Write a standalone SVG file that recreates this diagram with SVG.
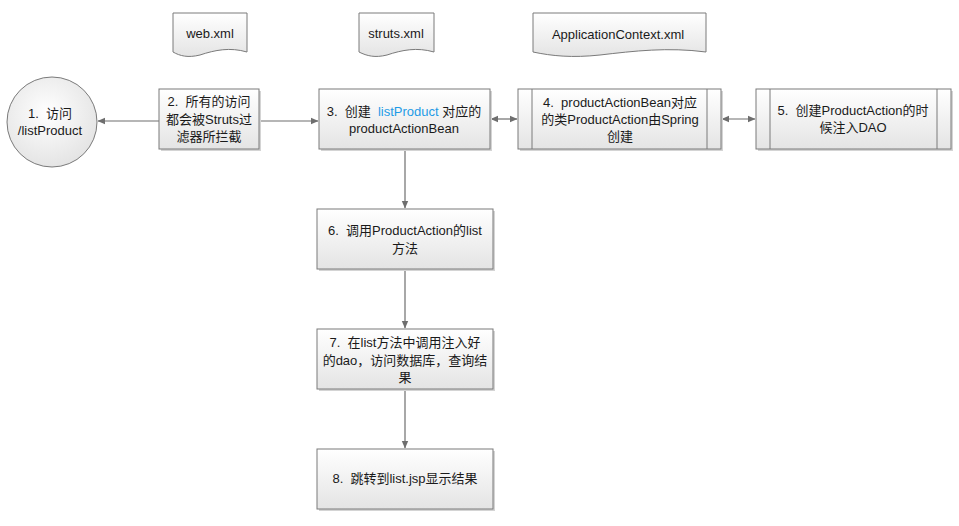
<svg xmlns="http://www.w3.org/2000/svg" width="959" height="526" viewBox="0 0 959 526">
<style>
text{font-family:"Liberation Sans","Noto Sans CJK SC",sans-serif;font-size:13px;fill:#1a1a1a;white-space:pre}
.box{fill:url(#g);stroke:#7a7a7a;stroke-width:1}
.sh{fill:#d4d4d4}
.doc{fill:url(#g);stroke:#7a7a7a;stroke-width:1}
.in{stroke:#7a7a7a;stroke-width:1}
.c{stroke:#6e6e6e;stroke-width:1.2;fill:none}
.hl{fill:#1e9be6}
</style>
<defs>
<linearGradient id="g" x1="0" y1="0" x2="0" y2="1">
<stop offset="0" stop-color="#ffffff"/>
<stop offset="1" stop-color="#e4e4e4"/>
</linearGradient>
<radialGradient id="rg" cx="0.45" cy="0.4" r="0.65">
<stop offset="0" stop-color="#ffffff"/>
<stop offset="1" stop-color="#e2e2e2"/>
</radialGradient>
<marker id="a" markerWidth="8" markerHeight="8" refX="7" refY="4" orient="auto-start-reverse" markerUnits="userSpaceOnUse">
<path d="M0,0.8 L7.5,4 L0,7.2 Z" fill="#6e6e6e"/>
</marker>
</defs>
<rect width="959" height="526" fill="#ffffff"/>

<g id="connectors">
<line class="c" x1="159" y1="121" x2="98" y2="121" marker-end="url(#a)"/>
<line class="c" x1="259" y1="121" x2="318" y2="121" marker-end="url(#a)"/>
<line class="c" x1="491" y1="119" x2="517" y2="119" marker-start="url(#a)" marker-end="url(#a)"/>
<line class="c" x1="722" y1="119" x2="755" y2="119" marker-start="url(#a)" marker-end="url(#a)"/>
<line class="c" x1="405" y1="149" x2="405" y2="208" marker-end="url(#a)"/>
<line class="c" x1="405" y1="269" x2="405" y2="328" marker-end="url(#a)"/>
<line class="c" x1="405" y1="389" x2="405" y2="448" marker-end="url(#a)"/>
</g>

<g id="doc-web">
<path class="doc" d="M173,13 H247 V52 C230,47 215,50 200,55 C188,58 180,56 173,52 Z"/>
<text x="210" y="38" text-anchor="middle">web.xml</text>
</g>
<g id="doc-struts">
<path class="doc" d="M359,13 H434 V52 C417,47 402,50 387,55 C375,58 367,56 359,52 Z"/>
<text x="396" y="38" text-anchor="middle">struts.xml</text>
</g>
<g id="doc-appctx">
<path class="doc" d="M533,13 H706 V52 C668,47 634,51 600,55 C572,58 552,56 533,52 Z"/>
<text x="618" y="39" text-anchor="middle">ApplicationContext.xml</text>
</g>

<g id="n1">
<circle cx="52" cy="122" r="45" fill="url(#rg)" stroke="#7a7a7a"/>
<text x="50" y="118" text-anchor="middle">1.  访问</text>
<text x="50" y="135" text-anchor="middle">/listProduct</text>
</g>

<g id="n2">
<rect class="sh" x="161" y="91" width="100" height="60"/>
<rect class="box" x="159" y="89" width="100" height="60"/>
<text x="209" y="106" text-anchor="middle">2.  所有的访问</text>
<text x="209" y="124" text-anchor="middle">都会被Struts过</text>
<text x="209" y="141" text-anchor="middle">滤器所拦截</text>
</g>

<g id="n3">
<rect class="sh" x="321" y="91" width="171" height="60"/>
<rect class="box" x="319" y="89" width="171" height="60"/>
<text x="404" y="116" text-anchor="middle">3.  创建  <tspan class="hl">listProduct</tspan> 对应的</text>
<text x="404" y="133" text-anchor="middle">productActionBean</text>
</g>

<g id="n4">
<rect class="sh" x="520" y="91" width="203" height="60"/>
<rect class="box" x="518" y="89" width="203" height="60"/>
<line class="in" x1="532" y1="89" x2="532" y2="149"/>
<line class="in" x1="707" y1="89" x2="707" y2="149"/>
<text x="620" y="107" text-anchor="middle">4.  productActionBean对应</text>
<text x="620" y="124" text-anchor="middle">的类ProductAction由Spring</text>
<text x="620" y="141" text-anchor="middle">创建</text>
</g>

<g id="n5">
<rect class="sh" x="758" y="91" width="195" height="60"/>
<rect class="box" x="756" y="89" width="195" height="60"/>
<line class="in" x1="770" y1="89" x2="770" y2="149"/>
<line class="in" x1="937" y1="89" x2="937" y2="149"/>
<text x="853" y="115" text-anchor="middle">5.  创建ProductAction的时</text>
<text x="853" y="132" text-anchor="middle">候注入DAO</text>
</g>

<g id="n6">
<rect class="sh" x="319" y="211" width="176" height="60"/>
<rect class="box" x="317" y="209" width="176" height="60"/>
<text x="405" y="235" text-anchor="middle">6.  调用ProductAction的list</text>
<text x="405" y="253" text-anchor="middle">方法</text>
</g>

<g id="n7">
<rect class="sh" x="319" y="331" width="176" height="60"/>
<rect class="box" x="317" y="329" width="176" height="60"/>
<text x="405" y="347" text-anchor="middle">7.  在list方法中调用注入好</text>
<text x="405" y="365" text-anchor="middle">的dao，访问数据库，查询结</text>
<text x="405" y="382" text-anchor="middle">果</text>
</g>

<g id="n8">
<rect class="sh" x="319" y="451" width="176" height="60"/>
<rect class="box" x="317" y="449" width="176" height="60"/>
<text x="405" y="483" text-anchor="middle">8.  跳转到list.jsp显示结果</text>
</g>
</svg>
